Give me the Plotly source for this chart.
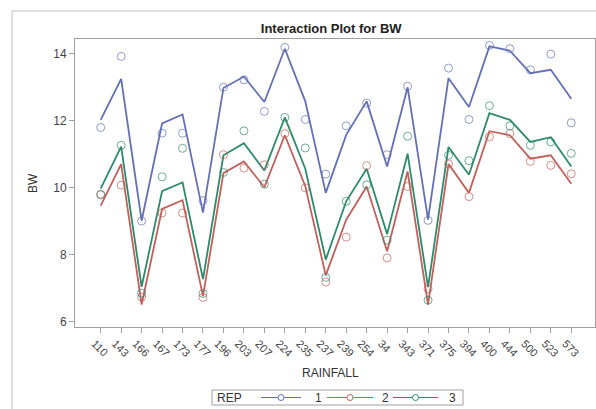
import plotly.graph_objects as go

rainfall = ["110", "143", "166", "167", "173", "177", "196", "203", "207", "224", "235", "237",
            "239", "254", "34", "343", "371", "375", "394", "400", "444", "500", "523", "573"]

# fitted (line) values per REP
rep1_fit = [12.02, 13.24, 9.01, 11.91, 12.18, 9.25, 12.97, 13.31, 12.55, 14.14, 12.57, 9.84,
            11.57, 12.57, 10.63, 12.99, 9.04, 13.26, 12.40, 14.21, 14.08, 13.41, 13.51, 12.65]
rep2_fit = [9.46, 10.70, 6.51, 9.36, 9.62, 6.76, 10.43, 10.78, 10.01, 11.56, 10.04, 7.38,
            9.04, 10.03, 8.10, 10.48, 6.51, 10.70, 9.84, 11.68, 11.56, 10.86, 10.96, 10.11]
rep3_fit = [9.97, 11.22, 7.04, 9.89, 10.15, 7.27, 10.96, 11.32, 10.51, 12.09, 10.56, 7.85,
            9.59, 10.56, 8.61, 11.01, 7.03, 11.21, 10.38, 12.22, 12.02, 11.36, 11.50, 10.63]

# observed (circle) values per REP
rep1_obs = [11.79, 13.91, 9.00, 11.62, 11.62, 9.61, 12.99, 13.21, 12.27, 14.18, 12.03, 10.40,
            11.84, 12.52, 10.98, 13.02, 9.02, 13.56, 12.03, 14.24, 14.14, 13.51, 13.98, 11.93]
rep2_obs = [9.78, 10.07, 6.73, 9.24, 9.24, 6.72, 10.98, 10.58, 10.68, 11.61, 9.99, 7.18,
            8.52, 10.65, 7.90, 10.03, 6.98, 10.70, 9.73, 11.51, 11.61, 10.78, 10.66, 10.41]
rep3_obs = [9.80, 11.26, 6.85, 10.32, 11.17, 6.84, 10.45, 11.69, 10.10, 12.09, 11.18, 7.32,
            9.59, 10.08, 8.43, 11.53, 6.64, 10.96, 10.80, 12.44, 11.84, 11.26, 11.36, 11.02]

reps = ["1", "2", "3"]
y_ticks = [6, 8, 10, 12, 14]

colors = {"1": "#6470B5", "2": "#C0615B", "3": "#2E8A6C"}
fits = {"1": rep1_fit, "2": rep2_fit, "3": rep3_fit}
obs = {"1": rep1_obs, "2": rep2_obs, "3": rep3_obs}

# plot-area geometry in pixels
L, R, T, B, W, H = 75, 1, 39, 82, 596, 409
PW, PH = W - L - R, H - T - B


def px(xpix):
    return (xpix - L) / PW


def py(ypix):
    return (H - B - ypix) / PH


fig = go.Figure()
for r in reps:
    fig.add_trace(go.Scatter(x=rainfall, y=fits[r], mode="lines",
                             line=dict(color=colors[r], width=1.8),
                             showlegend=False, hoverinfo="skip"))
for r in reps:
    fig.add_trace(go.Scatter(x=rainfall, y=obs[r], mode="markers",
                             marker=dict(symbol="circle-open", size=8,
                                         color=colors[r], opacity=0.7,
                                         line=dict(width=1)),
                             showlegend=False))

axis_color = "#A0A0A0"
font_family = "Liberation Sans, Arial, sans-serif"

fig.update_layout(
    width=W, height=H,
    margin=dict(l=L, r=R, t=T, b=B, autoexpand=False),
    paper_bgcolor="white", plot_bgcolor="white",
    font=dict(family=font_family, color="#333333", size=11),
    title=dict(text="<b>Interaction Plot for BW</b>", x=0.5557, xanchor="center",
               y=1 - 28 / H, yanchor="middle",
               font=dict(size=13, color="#222222", family=font_family)),
    showlegend=False,
)

fig.update_xaxes(
    type="category", categoryorder="array", categoryarray=rainfall,
    range=[-1.256, 24.16],
    showline=True, linecolor=axis_color, linewidth=1, mirror=True,
    ticks="outside", ticklen=5, tickcolor=axis_color,
    tickangle=45, tickfont=dict(size=11, color="#444444"),
    ticklabelshift=-6,
    showgrid=False, zeroline=False,
)
fig.update_yaxes(
    range=[5.84, 14.43], tickvals=y_ticks,
    showline=True, linecolor=axis_color, linewidth=1, mirror=True,
    ticks="outside", ticklen=5, tickcolor=axis_color,
    tickfont=dict(size=12, color="#444444"),
    showgrid=False, zeroline=False,
)

fig.add_annotation(text="RAINFALL", xref="paper", yref="paper",
                   x=px(330), y=py(373), xanchor="center", yanchor="middle",
                   showarrow=False, font=dict(size=12, color="#333333"))
fig.add_annotation(text="BW", xref="paper", yref="paper",
                   x=px(33), y=0.5, xanchor="center", yanchor="middle", textangle=-90,
                   showarrow=False, font=dict(size=12, color="#333333"))

# outer graph frame
fig.add_shape(type="rect", xref="paper", yref="paper",
              x0=px(12), x1=px(600), y0=py(415), y1=py(11),
              line=dict(color="#BDBDBD", width=1), fillcolor="rgba(0,0,0,0)", layer="below")

# legend (drawn as shapes + text)
leg_top, leg_bot = 390, 405
leg_mid = (leg_top + leg_bot) / 2
fig.add_shape(type="rect", xref="paper", yref="paper",
              x0=px(212), x1=px(463), y0=py(leg_bot), y1=py(leg_top),
              line=dict(color="#A0A0A0", width=1), fillcolor="white")
fig.add_annotation(text="REP", xref="paper", yref="paper", x=px(215), y=py(leg_mid),
                   xanchor="left", yanchor="middle", showarrow=False,
                   font=dict(size=12, color="#333333"))
leg_items = [(261, 301, 313), (327, 373, 380), (393, 438, 447)]
for r, (x0, x1, xt) in zip(reps, leg_items):
    fig.add_shape(type="line", xref="paper", yref="paper",
                  x0=px(x0), x1=px(x1), y0=py(leg_mid), y1=py(leg_mid),
                  line=dict(color=colors[r], width=1.2))
    cx = (x0 + x1) / 2
    fig.add_shape(type="circle", xref="paper", yref="paper",
                  x0=px(cx - 3), x1=px(cx + 3), y0=py(leg_mid + 3), y1=py(leg_mid - 3),
                  line=dict(color=colors[r], width=1), fillcolor="white")
    fig.add_annotation(text=r, xref="paper", yref="paper", x=px(xt), y=py(leg_mid),
                       xanchor="left", yanchor="middle", showarrow=False,
                       font=dict(size=12, color="#333333"))

fig.write_html("out.html")
